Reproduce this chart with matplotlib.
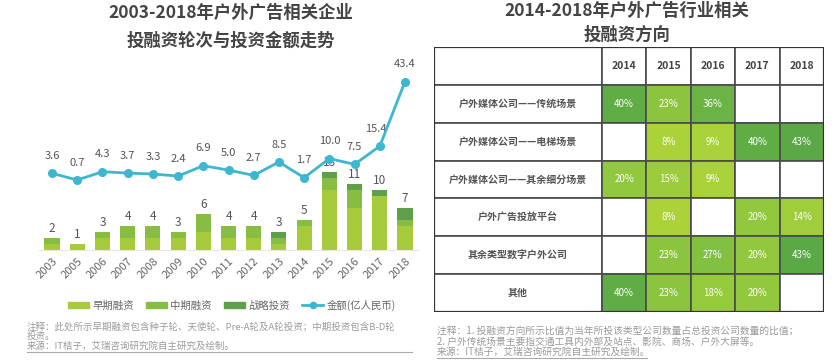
import matplotlib
matplotlib.use("Agg")
import matplotlib.pyplot as plt
from matplotlib.patches import Rectangle, Patch
from matplotlib.lines import Line2D
from matplotlib.colors import LinearSegmentedColormap
import numpy as np

plt.rcParams['font.family'] = ['Noto Sans CJK SC', 'DejaVu Sans']

# ---------------- data: left chart ----------------
years = ['2003', '2005', '2006', '2007', '2008', '2009', '2010', '2011',
         '2012', '2013', '2014', '2015', '2016', '2017', '2018']
early = [1, 1, 2, 2, 2, 2, 3, 2, 2, 1, 4, 10, 7, 9, 4]
mid = [1, 0, 1, 2, 2, 1, 3, 2, 2, 1, 1, 2, 3, 0, 1]
strategic = [0, 0, 0, 0, 0, 0, 0, 0, 0, 1, 0, 1, 1, 1, 2]
amount = [3.6, 0.7, 4.3, 3.7, 3.3, 2.4, 6.9, 5.0, 2.7, 8.5, 1.7, 10.0, 7.5, 15.4, 43.4]
amount_labels = ['3.6', '0.7', '4.3', '3.7', '3.3', '2.4', '6.9', '5.0', '2.7',
                 '8.5', '1.7', '10.0', '7.5', '15.4', '43.4']
series_names = ['早期融资', '中期融资', '战略投资', '金额(亿人民币)']

# ---------------- data: right table ----------------
table_years = ['2014', '2015', '2016', '2017', '2018']
table_rows = ['户外媒体公司——传统场景', '户外媒体公司——电梯场景',
              '户外媒体公司——其余细分场景', '户外广告投放平台',
              '其余类型数字户外公司', '其他']
table_vals = [
    [40, 23, 36, None, None],
    [None, 8, 9, 40, 43],
    [20, 15, 9, None, None],
    [None, 8, None, 20, 14],
    [None, 23, 27, 20, 43],
    [40, 23, 18, 20, None],
]

left_title = '2003-2018年户外广告相关企业\n投融资轮次与投资金额走势'
right_title = '2014-2018年户外广告行业相关\n投融资方向'
left_note = ['注释：此处所示早期融资包含种子轮、天使轮、Pre-A轮及A轮投资；中期投资包含B-D轮',
             '投资。', '来源：IT桔子，艾瑞咨询研究院自主研究及绘制。']
right_note = ['注释：1. 投融资方向所示比值为当年所投该类型公司数量占总投资公司数量的比值；',
              '2. 户外传统场景主要指交通工具内外部及站点、影院、商场、户外大屏等。',
              '来源：IT桔子，艾瑞咨询研究院自主研究及绘制。']

W, H = 835, 360
fig = plt.figure(figsize=(W / 100, H / 100), dpi=100)
fig.patch.set_facecolor('white')


def box(l, t, r, b):
    return [l / W, 1 - b / H, (r - l) / W, (b - t) / H]


c_early = '#a6ca3b'
c_mid = '#88bd44'
c_strat = '#5e9f4a'
c_line = '#3db7cf'
txt = '#555555'

# ---------------- left chart ----------------
ax = fig.add_axes(box(39.4, 75, 417.6, 250))
x = np.arange(len(years))
e = np.array(early)
m = np.array(mid)
s = np.array(strategic)
bw = 0.6
ax.bar(x, e, bw, color=c_early)
ax.bar(x, m, bw, bottom=e, color=c_mid)
ax.bar(x, s, bw, bottom=e + m, color=c_strat)
tot = e + m + s
for xi, t in zip(x, tot):
    ax.annotate(str(t), (xi, t), xytext=(0, 2), textcoords='offset points',
                ha='center', va='bottom', fontsize=8.5, color=txt)
ax.set_xlim(-0.5, len(years) - 0.5)
ax.set_ylim(0, 29.2)
ax.set_yticks([])
ax.set_xticks(x)
ax.set_xticklabels(years, rotation=45, ha='right', va='top',
                   rotation_mode='anchor', fontsize=8, color='#666666')
ax.tick_params(axis='x', length=0, pad=4)
for sp in ax.spines.values():
    sp.set_visible(False)
ax.spines['bottom'].set_visible(True)
ax.spines['bottom'].set_color('#e6e6e6')

ax2 = ax.twinx()
ax2.plot(x, amount, color=c_line, lw=2, marker='o', ms=5.5, zorder=5)
ax2.set_ylim(-29.7, 46.3)
ax2.set_yticks([])
for sp in ax2.spines.values():
    sp.set_visible(False)
for i, (xi, v, lab) in enumerate(zip(x, amount, amount_labels)):
    dx = -3 if lab == '15.4' else 0
    ax2.annotate(lab, (xi, v), xytext=(dx, 9), textcoords='offset points',
                 ha='center', va='bottom', fontsize=8, color=txt)

fig.text(231 / W, 1 - 27 / H, left_title, ha='center', va='center',
         fontsize=12.5, fontweight='bold', color='#444444', linespacing=1.75)

handles = [Patch(color=c_early), Patch(color=c_mid), Patch(color=c_strat),
           Line2D([], [], color=c_line, lw=2, marker='o', ms=4.5)]
leg = fig.legend(handles, series_names, loc='center', ncol=4,
                 bbox_to_anchor=(232 / W, 1 - 305 / H), frameon=False,
                 fontsize=7.5, handlelength=2.0, handleheight=0.45,
                 columnspacing=1.2, handletextpad=0.3)
for t in leg.get_texts():
    t.set_color('#666666')

for i, line in enumerate(left_note):
    fig.text(27 / W, 1 - (327 + 9.5 * i) / H, line, ha='left', va='center',
             fontsize=6.8, color='#9a9a9a')
fig.add_artist(Line2D([27 / W, 412 / W], [1 - 352 / H, 1 - 352 / H],
                      color='#aaaaaa', lw=0.8))

# ---------------- right table ----------------
tax = fig.add_axes(box(434, 47, 824, 312))
label_w = 3.78
ncol = len(table_years)
nrow = len(table_rows) + 1
tax.set_xlim(0, label_w + ncol)
tax.set_ylim(nrow, 0)
tax.axis('off')
cmap = LinearSegmentedColormap.from_list('g', ['#bdd835', '#8cc63f', '#55a647'])
edge = '#4a4a4a'

# header
tax.add_patch(Rectangle((0, 0), label_w, 1, facecolor='white', edgecolor=edge, lw=1.2))
for j, yr in enumerate(table_years):
    tax.add_patch(Rectangle((label_w + j, 0), 1, 1, facecolor='white', edgecolor=edge, lw=1.2))
    tax.text(label_w + j + 0.5, 0.5, yr, ha='center', va='center',
             fontsize=7.5, fontweight='bold', color='#444444')
for i, (name, vals) in enumerate(zip(table_rows, table_vals)):
    r = i + 1
    tax.add_patch(Rectangle((0, r), label_w, 1, facecolor='white', edgecolor=edge, lw=1.2))
    tax.text(label_w / 2, r + 0.5, name, ha='center', va='center',
             fontsize=7.2, fontweight='bold', color='#555555')
    for j, v in enumerate(vals):
        fc = 'white' if v is None else cmap(min(v / 45.0, 1.0))
        tax.add_patch(Rectangle((label_w + j, r), 1, 1, facecolor=fc, edgecolor=edge, lw=1.2))
        if v is not None:
            tax.text(label_w + j + 0.5, r + 0.5, f'{v}%', ha='center', va='center',
                     fontsize=7, color='white')
tax.add_patch(Rectangle((0, 0), label_w + ncol, nrow, facecolor='none',
                        edgecolor='#333333', lw=1.6))

fig.text(627 / W, 1 - 23 / H, right_title, ha='center', va='center',
         fontsize=12.5, fontweight='bold', color='#444444', linespacing=1.45)

for i, line in enumerate(right_note):
    fig.text(437 / W, 1 - (331 + 10.5 * i) / H, line, ha='left', va='center',
             fontsize=7.0, color='#9a9a9a')
fig.add_artist(Line2D([437 / W, 647 / W], [1 - 358 / H, 1 - 358 / H],
                      color='#aaaaaa', lw=0.8))

fig.savefig('out.png', dpi=100, facecolor='white')
